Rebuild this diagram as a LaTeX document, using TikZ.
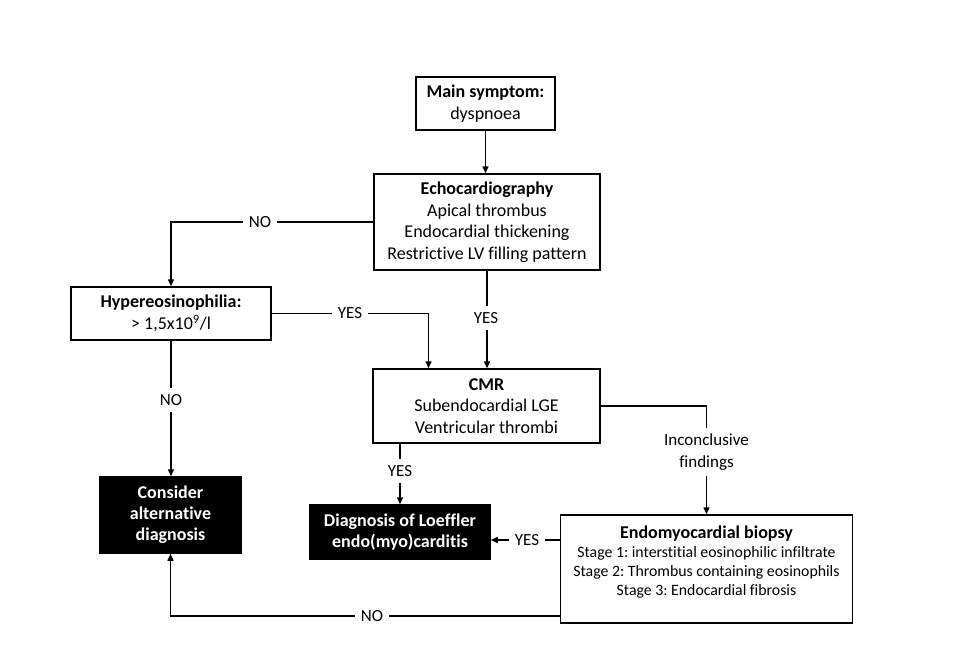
\documentclass[tikz,border=0pt]{standalone}
\usepackage{fontspec}
\setmainfont{Carlito}[Ligatures=NoCommon]
\usetikzlibrary{arrows.meta}
\frenchspacing
\begin{document}
\begin{tikzpicture}[x=1pt,y=-1pt,line width=1.5pt,
    font=\fontsize{18}{21.5}\selectfont,
    box/.style={draw,align=center,inner sep=0pt},
    dark/.style={box,fill=black,text=white,font=\bfseries\fontsize{18}{21}\selectfont},
    lbl/.style={fill=white,inner sep=6pt,align=center,font=\fontsize{17}{21.5}\selectfont},
    arr/.style={-{Triangle[length=7pt,width=6pt]}}]
    \useasboundingbox (0,0) rectangle (960,665);
    % boxes
    \node [box,minimum width=139pt,minimum height=53pt] (main) at (485.5,103.5) {\textbf{Main symptom:}\\dyspnoea};
    \node [box,minimum width=226pt,minimum height=96pt] (echo) at (487,222) {\textbf{Echocardiography}\\Apical thrombus\\Endocardial thickening\\Restrictive LV filling pattern};
    \node [box,minimum width=200pt,minimum height=53pt] (hyper) at (171,313.5) {\textbf{Hypereosinophilia:}\\> 1,5x10\textsuperscript{9}/l};
    \node [box,minimum width=227pt,minimum height=74pt] (cmr) at (486.5,406) {\textbf{CMR}\\Subendocardial LGE\\Ventricular thrombi};
    \node [dark,minimum width=141pt,minimum height=76pt] (alt) at (170.5,515) {Consider\\alternative\\diagnosis};
    \node [dark,minimum width=180pt,minimum height=54pt] (loef) at (400,532) {Diagnosis of Loeffler\\endo(myo)carditis};
    \node [box,minimum width=292pt,minimum height=108pt] (bio) at (706.5,569) {};
    \node [align=center,font=\fontsize{15.8}{19}\selectfont] (biotext) at (706.5,562) {{\fontsize{18}{20}\selectfont\textbf{Endomyocardial biopsy}}\\Stage 1: interstitial eosinophilic infiltrate\\Stage 2: Thrombus containing eosinophils\\Stage 3: Endocardial fibrosis};
    % connectors
    \draw [arr] (main.south) -- (main.south |- echo.north);
    \draw [arr] (echo.west) -| (hyper.north);
    \node [lbl] (no1) at (260,222) {NO};
    \draw [arr] (echo.south) -- (echo.south |- cmr.north);
    \node [lbl] (yes1) at (486,318) {YES};
    \draw [arr] (hyper.east) -| ([xshift=-58pt]cmr.north);
    \node [lbl] (yes2) at (350,313.5) {YES};
    \draw [arr] (hyper.south) -- (hyper.south |- alt.north);
    \node [lbl] (no2) at (171,400) {NO};
    \draw [arr] (loef.north |- cmr.south) -- (loef.north);
    \node [lbl] (yes3) at (400,471) {YES};
    \draw [arr] (cmr.east) -| (bio.north);
    \node [lbl] (inc) at (706.5,452) {Inconclusive\\findings};
    \draw [arr] ([yshift=29pt]bio.west) -- ([yshift=29pt]bio.west -| loef.east);
    \node [lbl] (yes4) at (527,540) {YES};
    \draw [arr] ([yshift=-47pt]bio.west) -| (alt.south);
    \node [lbl] (no3) at (372,616) {NO};
\end{tikzpicture}
\end{document}
